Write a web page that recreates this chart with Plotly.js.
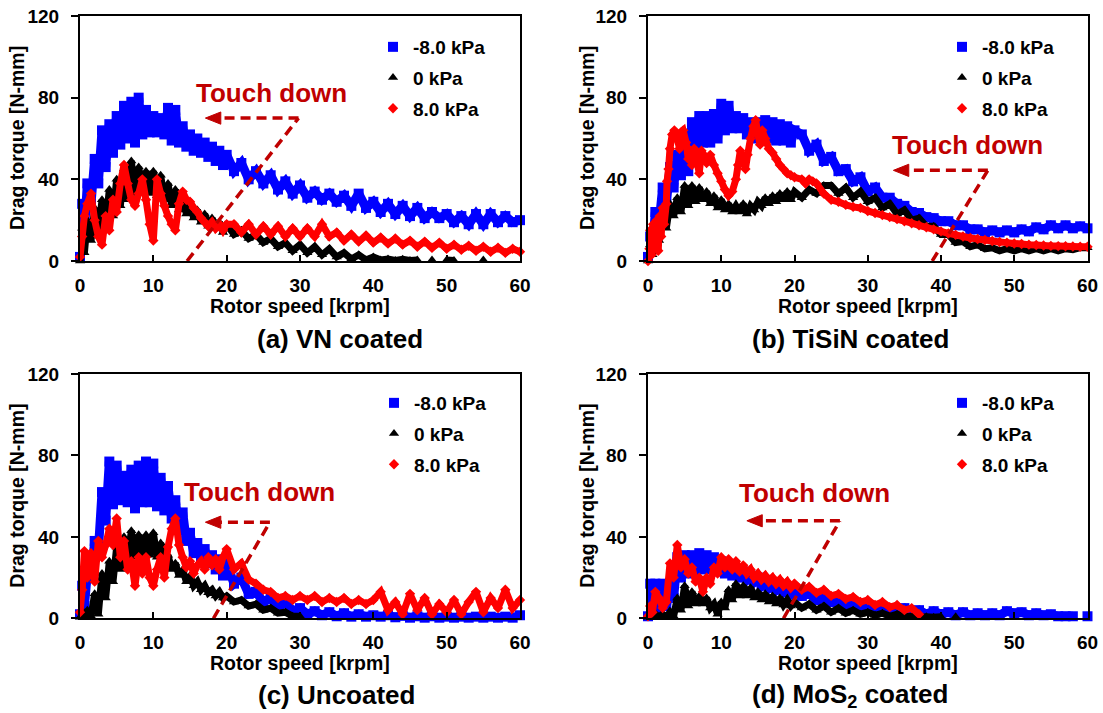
<!DOCTYPE html>
<html>
<head>
<meta charset="utf-8">
<script src="https://cdn.plot.ly/plotly-3.0.1.min.js"></script>
<style>html,body{margin:0;padding:0;background:#fff;overflow:hidden}</style>
</head>
<body>
<div id="chart" style="width:1103px;height:713px"></div>
<script>
// ---------------- DATA ----------------
const seriesNames = ['-8.0 kPa', '0 kPa', '8.0 kPa'];
const panelTitles = ['(a) VN coated', '(b) TiSiN coated', '(c) Uncoated', '(d) MoS<sub>2</sub> coated'];
const xTickVals = [0, 10, 20, 30, 40, 50, 60];
const yTickVals = [0, 40, 80, 120];
const xTitle = 'Rotor speed [krpm]';
const yTitle = 'Drag torque [N-mm]';
const noteText = 'Touch down';

// Rotor speed grid [krpm] shared by the sampled series
const X_GRID = [0,0.3,0.6,1,1.5,2,2.5,3,3.5,4,4.5,5,5.5,6,6.5,7,7.5,8,8.5,9,9.5,10,10.5,11,11.5,12,12.5,13,13.5,14,14.5,15,15.5,16,16.5,17,17.5,18,18.5,19,19.5,20,
  21,22,23,24,25,26,27,28,29,30,31,32,33,34,35,36,37,38,39,40,41,42,43,44,45,46,47,48,49,50,51,52,53,54,55,56,57,58,59,60];

// (a) VN coated - drag torque [N-mm]
const vnNeg8 = [2,28,14,38,28,50,38,64,46,67, 53,71,57,76,60,78,58,80,62,74, 63,71,63,70,62,75,59,74,58,66, 56,62,54,60,53,58,51,56,49,54, 47,52,
  44,48,40,44,38,42,35,39,33,37, 31,34,30,33,29,32,27,33,26,29, 24,28,23,27,22,26,21,24,21,23, 19,22,18,23,18,23,19,22,19,20];
const vnZero = [0,16,4,20,10,26,13,30,18,35, 22,40,27,45,30,49,33,46,34,44, 33,44,32,42,30,38,27,35,25,32, 23,29,21,25,19,23,17,21,16,19, 14,18,
  13,15,11,13,9,11,7,9,5,8, 4,7,3,6,2,4,1,3,0.5,2, 0.5,1,0.3,0.8,0.3,0.5,null,0.5,null,0.5, 0.3,null,null,null,0.5,null,null,null,null,null];
const vnPos8 = [2,12,22,28,33,20,12,8,22,15, 30,24,38,47,38,30,27,33,40,30, 18,10,40,33,27,22,18,15,28,34, 30,29,26,24,21,19,17,19,16,18, 15,18,
  18,14,18,13,17,13,17,12,16,12, 16,12,18,12,14,10,13,9.5,12.5,9, 11.5,8.5,11,8,10,7,9.5,6.5,9,6, 8,5.5,7.5,5,7,4.5,6.5,4,6,4.5];

// (b) TiSiN coated
const tisinNeg8 = [2,12,6,24,18,36,28,46,36,52, 42,58,44,68,56,71,58,71,58,72, 60,77,64,76,65,71,65,70,62,68, 60,68,60,69,60,68,59,67,59,66, 58,64,
  62,54,57,49,51,44,45,39,41,34, 36,31,31,28,27,24,23.5,21.5,21,19.5, 19.5,17.5,17.5,15.5,15.5,14,15,14,15,14, 15.5,14.5,16.5,15.5,17.5,16,17.5,16,17,16];
const tisinZero = [0,8,3,14,10,22,16,28,22,31, 24,37,27,37,29,36,30,34,28,32, 26,30,25,28,24,27,24,28,23,27, 25,29,27,31,28,32,29,33,30,34, 30,34,
  31,35,33,37,37,33,36,31,34,29, 31,26,28,23,25,20,21,17,17,13, 13,9,9.5,7,8,6,6.5,5,6,5, 6,5,6,5,6,5,6,5.5,6.5,6.5];
const tisinPos8X = [0,0.2,0.3,0.5,0.7,1,1.2,1.4,1.6,1.8, 2,2.2,2.5,2.6,2.8,3,3.3,3.6,4,4.3, 4.5,4.8,5.2,5.5,5.8,6,6.3,6.6,7,7.3,
  7.6,8,8.5,9,9.5,10,10.5,11,11.5,12, 12.3,12.6,13,13.3,13.6,14,14.4,14.7,15,15.3, 15.6,16,16.5,17,17.5,18,18.5,19,19.5,20,
  21,21.5,22,22.5,23,24,25,26,27,28, 29,30,31,32,33,34,35,36,37,38, 39,40,41,42,43,44,45,46,47,48, 49,50,51,52,53,54,55,56,57,58, 59,60];
const tisinPos8Y = [0,6,15,3,18,8,20,5,22,12, 26,18,28,39,45,55,62,64,60,55, 63,64,58,50,54,47,55,50,43,54,
  52,48,52,47,43,39,35,32,34,40, 47,54,50,45,52,60,66,69,62,57, 64,60,55,53,50,47,45,43,42,41,
  40,38,40,39,38,33,30,29,27.5,26.5, 26,24.5,23.5,22.5,21.5,20.5,19.5,18.5,17.5,16.5, 15.5,14.5,13.5,12.8,12,11.3,10.8,10.3,9.8,9.3,
  9,8.6,8.3,8,7.8,7.6,7.4,7.3,7.2,7.1, 7,7];

// (c) Uncoated
const uncNeg8 = [2,16,6,22,20,38,33,62,48,77, 56,75,58,70,57,73,54,75,57,77, 57,76,55,69,53,65,49,58,44,52, 38,42,32,37,29,34,27,31,24,29, 21,27,
  17,20,12,13,8,10,5,8,3.5,5, 2,3.5,1.5,3,1,2.5,0.8,2,0.8,1.5, 0.8,1.5,0.5,1.2,0.3,1,0.3,1,0.3,0.8, 0.3,0.8,0.3,0.8,0.3,0.8,0.3,0.8,0.3,1.5];
const uncZero = [0.5,3,0.5,4,1,12,2,22,10,28, 18,35,24,40,28,43,30,41,31,41, 31,42,30,37,27,31,24,27,21,24, 18,21,16,18,14,16,12.5,14,11,13, 10,11,
  8,9,6,7,4,5,2.5,3,1,1, null,null,null,null,null,null,null,null,null,null, null,null,null,null,null,null,null,null,null,null, null,null,null,null,null,null,null,null,null,null];
const uncPos8 = [3,14,33,20,32,18,38,30,36,44, 36,49,30,38,24,28,16,30,22,30, 20,16,24,30,20,35,44,49,36,30, 25,28,22,26,28,24,30,26,29,24, 30,34,
  24,27,19,17,14,13,10,11,9,11, 9,11,8,10,8,10,7,9,7,9, 13,4,8,2,12,4,10,2,7,3, 9,2,8,13,3,10,5,14,5,9];

// (d) MoS2 coated
const mosNeg8 = [1,17,3,17,5,17,6,16,10,30, 20,31,22,31,23,32,24,31,24,30, 23,28,22,26,21,24,20,23,19,21, 18,20,16,18,15,17,14,16,13,15, 12,14,
  11,12,9,10,8,8.5,6,7,5,5.5, 3.5,4.5,3,4,5,3,4,2,3.5,2, 3,1.5,3,1.5,2.5,1.5,2.5,1.5,3.5,2.5, 3,1.5,2.5,1.5,2,1,1,1,null,1];
const mosZero = [0.5,2,0.5,2,0.5,2,0.5,3,1,10, 4,16,6,13,7,11,7,10,5,7, 2,8,5,14,9,17,11,16,11,15, 10,13,9,12,8,11,7,10,6.5,9, 6,8,
  5,7,4,6,3,5,2.5,4,2,3, 1.5,2.5,1,2,0.8,1,0.5,0.8,0.5,0.8, null,0.8,null,null,null,null,null,null,null,null, null,null,null,null,null,null,null,null,null,null];
const mosPos8 = [1,6,3,13,10,5,8,27,20,36, 25,29,22,25,18,20,13,20,17,25, 22,30,25,29,24,28,23,26,22,24, 20,22,19,21,18,20,17,19,16,18, 15,17,
  14,15.5,12.5,14,11,12,9.5,10.5,8,9, 6.5,8,5.5,6.5,4,5,2,null,null,null, null,null,null,null,null,null,null,null,null,null, null,null,null,null,null,null,null,null,null,null];

// ---------------- STYLE / LAYOUT ----------------
const W = 1103, H = 713;
const fx = v => v / W, fy = v => 1 - v / H;
const FONT = 'Liberation Sans, Arial, Helvetica, sans-serif';
const NOTE = '#C00000';
const styles = [
  {color: '#0000FF', symbol: 'square', size: 10, lw: 9},
  {color: '#000000', symbol: 'triangle-up', size: 9, lw: 7},
  {color: '#FF0000', symbol: 'diamond', size: 8, lw: 7}
];

const panels = [
  {series: [[X_GRID, vnNeg8], [X_GRID, vnZero], [X_GRID, vnPos8]],
   dom: {x: [80, 520], y: [16, 261]}, yTitleX: 17.5, xTitleY: 306, title: [340, 339], legend: [373, 28],
   note: [26.1, 82.3], arrow: {y: 70, x0: 29.8, diag: 14.6, tip: 17.1}},
  {series: [[X_GRID, tisinNeg8], [X_GRID, tisinZero], [tisinPos8X, tisinPos8Y]],
   dom: {x: [648, 1087.5], y: [16, 261]}, yTitleX: 587.5, xTitleY: 306, title: [850, 339], legend: [942, 28],
   note: [43.6, 56.6], arrow: {y: 44.4, x0: 46.4, diag: 38.8, tip: 33.5}},
  {series: [[X_GRID, uncNeg8], [X_GRID, uncZero], [X_GRID, uncPos8]],
   dom: {x: [80, 520], y: [374, 618.3]}, yTitleX: 17.5, xTitleY: 663, title: [336, 695], legend: [374, 384],
   note: [24.5, 61.8], arrow: {y: 47.2, x0: 25.9, diag: 18.2, tip: 17.1}},
  {series: [[X_GRID, mosNeg8], [X_GRID, mosZero], [X_GRID, mosPos8]],
   dom: {x: [648, 1087.5], y: [374, 618.3]}, yTitleX: 587.5, xTitleY: 663, title: [850, 695], legend: [942, 384],
   note: [22.7, 61.4], arrow: {y: 47.9, x0: 26.2, diag: 18.5, tip: 13.5}}
];

const data = [];
const layout = {
  width: W, height: H,
  margin: {l: 0, r: 0, t: 0, b: 0},
  paper_bgcolor: '#fff', plot_bgcolor: '#fff',
  font: {family: FONT, color: '#000', size: 19},
  showlegend: true,
  annotations: [], shapes: []
};

panels.forEach((p, i) => {
  const n = i === 0 ? '' : String(i + 1);
  const xa = 'x' + n, ya = 'y' + n;
  const legId = 'legend' + n;
  styles.forEach((s, k) => {
    const [xs, ys] = p.series[k];
    const grp = 'p' + i + 's' + k;
    data.push({
      type: 'scatter', mode: 'lines', x: xs, y: ys, xaxis: xa, yaxis: ya,
      line: {color: s.color, width: s.lw, simplify: false}, showlegend: false,
      legendgroup: grp, legend: legId, hoverinfo: 'skip'
    });
    data.push({
      type: 'scatter', mode: 'markers', x: xs, y: ys, xaxis: xa, yaxis: ya,
      name: seriesNames[k], legendgroup: grp, legend: legId, cliponaxis: false,
      marker: {color: s.color, symbol: s.symbol, size: s.size, line: {width: 0}}
    });
  });
  layout['xaxis' + n] = {
    domain: [fx(p.dom.x[0]), fx(p.dom.x[1])], anchor: ya, range: [0, 60],
    tickmode: 'array', tickvals: xTickVals, ticks: 'inside', ticklen: 6, tickwidth: 2, tickcolor: '#000',
    showline: true, mirror: true, linewidth: 2, linecolor: '#000', showgrid: false, zeroline: false,
    tickfont: {family: FONT, size: 19, color: '#000', weight: 'bold'}, ticklabelstandoff: 6, fixedrange: true
  };
  layout['yaxis' + n] = {
    domain: [fy(p.dom.y[1]), fy(p.dom.y[0])], anchor: xa, range: [0, 120],
    tickmode: 'array', tickvals: yTickVals, ticks: 'outside', ticklen: 7, tickwidth: 2, tickcolor: '#000',
    showline: true, mirror: true, linewidth: 2, linecolor: '#000', showgrid: false, zeroline: false,
    tickfont: {family: FONT, size: 19, color: '#000', weight: 'bold'}, ticklabelstandoff: 8, fixedrange: true
  };
  layout[legId] = {
    x: fx(p.legend[0]), y: fy(p.legend[1]), xanchor: 'left', yanchor: 'top',
    bgcolor: 'rgba(0,0,0,0)', borderwidth: 0, tracegroupgap: 3,
    font: {family: FONT, size: 19, color: '#000', weight: 'bold'}
  };
  const cx = (p.dom.x[0] + p.dom.x[1]) / 2, cy = (p.dom.y[0] + p.dom.y[1]) / 2;
  layout.annotations.push(
    {xref: 'paper', yref: 'paper', x: fx(p.yTitleX), y: fy(cy), text: '<b>' + yTitle + '</b>', textangle: -90,
     showarrow: false, xanchor: 'center', yanchor: 'middle', font: {family: FONT, size: 19.5, color: '#000'}},
    {xref: 'paper', yref: 'paper', x: fx(cx), y: fy(p.xTitleY), text: '<b>' + xTitle + '</b>',
     showarrow: false, xanchor: 'center', yanchor: 'middle', font: {family: FONT, size: 19.5, color: '#000'}},
    {xref: 'paper', yref: 'paper', x: fx(p.title[0]), y: fy(p.title[1]), text: '<b>' + panelTitles[i] + '</b>',
     showarrow: false, xanchor: 'center', yanchor: 'middle', font: {family: FONT, size: 26, color: '#000'}},
    {xref: xa, yref: ya, x: p.note[0], y: p.note[1], text: '<b>' + noteText + '</b>',
     showarrow: false, xanchor: 'center', yanchor: 'middle', font: {family: FONT, size: 26, color: NOTE}}
  );
  const a = p.arrow;
  const base = a.tip + 2.1;
  layout.shapes.push(
    {type: 'line', xref: xa, yref: ya, x0: a.x0, y0: a.y, x1: base, y1: a.y,
     line: {color: NOTE, width: 3.5, dash: '10px,6px'}},
    {type: 'line', xref: xa, yref: ya, x0: a.diag, y0: 0, x1: a.x0, y1: a.y,
     line: {color: NOTE, width: 3.5, dash: '10px,6px'}},
    {type: 'path', xref: xa, yref: ya,
     path: 'M ' + a.tip + ',' + a.y + ' L ' + base + ',' + (a.y + 3) + ' L ' + base + ',' + (a.y - 3) + ' Z',
     fillcolor: NOTE, line: {color: NOTE, width: 1}}
  );
});

Plotly.newPlot('chart', data, layout, {displayModeBar: false, staticPlot: true});
</script>
</body>
</html>
